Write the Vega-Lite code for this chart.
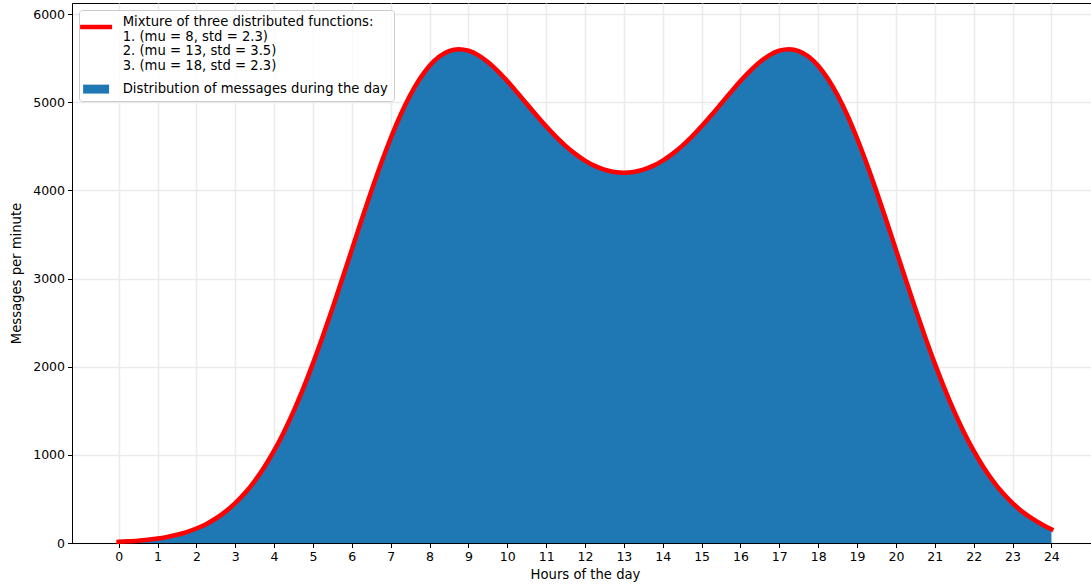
{
  "$schema": "https://vega.github.io/schema/vega-lite/v6.json",
  "autosize": "none",
  "width": 1026,
  "height": 540,
  "padding": {"left": 72, "top": 3, "right": 0, "bottom": 45},
  "background": "white",
  "config": {
    "font": "DejaVu Sans",
    "view": {"stroke": "#000000", "strokeWidth": 1},
    "axis": {
      "labelFont": "DejaVu Sans", "labelFontSize": 12.5, "labelColor": "#000000",
      "titleFont": "DejaVu Sans", "titleFontSize": 13.2, "titleFontWeight": "normal", "titleColor": "#000000",
      "domainColor": "#000000", "domainWidth": 1, "tickColor": "#000000", "tickSize": 4.5, "tickWidth": 1,
      "gridColor": "#ebebeb", "gridWidth": 1.5
    }
  },
  "data": {"values": [
    {"hour": 0, "count": 12, "fit": 13},
    {"hour": 0.25, "count": 18, "fit": 19},
    {"hour": 0.5, "count": 25, "fit": 26},
    {"hour": 0.75, "count": 36, "fit": 37},
    {"hour": 1, "count": 49, "fit": 50},
    {"hour": 1.25, "count": 68, "fit": 69},
    {"hour": 1.5, "count": 92, "fit": 93},
    {"hour": 1.75, "count": 122, "fit": 124},
    {"hour": 2, "count": 161, "fit": 164},
    {"hour": 2.25, "count": 212, "fit": 214},
    {"hour": 2.5, "count": 275, "fit": 278},
    {"hour": 2.75, "count": 354, "fit": 356},
    {"hour": 3, "count": 450, "fit": 452},
    {"hour": 3.25, "count": 563, "fit": 566},
    {"hour": 3.5, "count": 700, "fit": 703},
    {"hour": 3.75, "count": 860, "fit": 863},
    {"hour": 4, "count": 1045, "fit": 1047},
    {"hour": 4.25, "count": 1255, "fit": 1257},
    {"hour": 4.5, "count": 1490, "fit": 1493},
    {"hour": 4.75, "count": 1750, "fit": 1754},
    {"hour": 5, "count": 2035, "fit": 2037},
    {"hour": 5.25, "count": 2338, "fit": 2341},
    {"hour": 5.5, "count": 2658, "fit": 2661},
    {"hour": 5.75, "count": 2990, "fit": 2992},
    {"hour": 6, "count": 3325, "fit": 3328},
    {"hour": 6.25, "count": 3660, "fit": 3663},
    {"hour": 6.5, "count": 3988, "fit": 3990},
    {"hour": 6.75, "count": 4300, "fit": 4302},
    {"hour": 7, "count": 4590, "fit": 4591},
    {"hour": 7.25, "count": 4850, "fit": 4852},
    {"hour": 7.5, "count": 5075, "fit": 5078},
    {"hour": 7.75, "count": 5262, "fit": 5266},
    {"hour": 8, "count": 5410, "fit": 5414},
    {"hour": 8.25, "count": 5515, "fit": 5518},
    {"hour": 8.5, "count": 5578, "fit": 5580},
    {"hour": 8.75, "count": 5600, "fit": 5601},
    {"hour": 9, "count": 5582, "fit": 5584},
    {"hour": 9.25, "count": 5530, "fit": 5534},
    {"hour": 9.5, "count": 5452, "fit": 5456},
    {"hour": 9.75, "count": 5352, "fit": 5356},
    {"hour": 10, "count": 5236, "fit": 5240},
    {"hour": 10.25, "count": 5110, "fit": 5113},
    {"hour": 10.5, "count": 4978, "fit": 4982},
    {"hour": 10.75, "count": 4848, "fit": 4852},
    {"hour": 11, "count": 4722, "fit": 4726},
    {"hour": 11.25, "count": 4605, "fit": 4610},
    {"hour": 11.5, "count": 4500, "fit": 4505},
    {"hour": 11.75, "count": 4410, "fit": 4414},
    {"hour": 12, "count": 4334, "fit": 4338},
    {"hour": 12.25, "count": 4274, "fit": 4278},
    {"hour": 12.5, "count": 4230, "fit": 4235},
    {"hour": 12.75, "count": 4205, "fit": 4209},
    {"hour": 13, "count": 4196, "fit": 4201},
    {"hour": 13.25, "count": 4205, "fit": 4209},
    {"hour": 13.5, "count": 4230, "fit": 4235},
    {"hour": 13.75, "count": 4274, "fit": 4278},
    {"hour": 14, "count": 4334, "fit": 4338},
    {"hour": 14.25, "count": 4410, "fit": 4414},
    {"hour": 14.5, "count": 4500, "fit": 4505},
    {"hour": 14.75, "count": 4605, "fit": 4610},
    {"hour": 15, "count": 4722, "fit": 4726},
    {"hour": 15.25, "count": 4848, "fit": 4852},
    {"hour": 15.5, "count": 4978, "fit": 4982},
    {"hour": 15.75, "count": 5110, "fit": 5113},
    {"hour": 16, "count": 5236, "fit": 5240},
    {"hour": 16.25, "count": 5352, "fit": 5356},
    {"hour": 16.5, "count": 5452, "fit": 5456},
    {"hour": 16.75, "count": 5530, "fit": 5534},
    {"hour": 17, "count": 5582, "fit": 5584},
    {"hour": 17.25, "count": 5600, "fit": 5601},
    {"hour": 17.5, "count": 5578, "fit": 5580},
    {"hour": 17.75, "count": 5515, "fit": 5518},
    {"hour": 18, "count": 5410, "fit": 5414},
    {"hour": 18.25, "count": 5262, "fit": 5266},
    {"hour": 18.5, "count": 5075, "fit": 5078},
    {"hour": 18.75, "count": 4850, "fit": 4852},
    {"hour": 19, "count": 4590, "fit": 4591},
    {"hour": 19.25, "count": 4300, "fit": 4302},
    {"hour": 19.5, "count": 3988, "fit": 3990},
    {"hour": 19.75, "count": 3660, "fit": 3663},
    {"hour": 20, "count": 3325, "fit": 3328},
    {"hour": 20.25, "count": 2990, "fit": 2992},
    {"hour": 20.5, "count": 2658, "fit": 2661},
    {"hour": 20.75, "count": 2338, "fit": 2341},
    {"hour": 21, "count": 2035, "fit": 2037},
    {"hour": 21.25, "count": 1750, "fit": 1754},
    {"hour": 21.5, "count": 1490, "fit": 1493},
    {"hour": 21.75, "count": 1255, "fit": 1257},
    {"hour": 22, "count": 1045, "fit": 1047},
    {"hour": 22.25, "count": 860, "fit": 863},
    {"hour": 22.5, "count": 700, "fit": 703},
    {"hour": 22.75, "count": 563, "fit": 566},
    {"hour": 23, "count": 450, "fit": 452},
    {"hour": 23.25, "count": 354, "fit": 356},
    {"hour": 23.5, "count": 275, "fit": 278},
    {"hour": 23.75, "count": 210, "fit": 212},
    {"hour": 24, "count": 152, "fit": 155}
  ]},
  "encoding": {
    "x": {
      "field": "hour", "type": "quantitative",
      "scale": {"domain": [-1.2, 25.2], "nice": false, "zero": false},
      "axis": {
        "values": [0,1,2,3,4,5,6,7,8,9,10,11,12,13,14,15,16,17,18,19,20,21,22,23,24],
        "format": "d", "title": "Hours of the day", "labelFlush": false,
        "labelPadding": 3, "titlePadding": 5
      }
    }
  },
  "layer": [
    {
      "mark": {"type": "area", "interpolate": "monotone", "opacity": 1},
      "encoding": {
        "y": {
          "field": "count", "type": "quantitative",
          "scale": {"domain": [0, 6125], "nice": false},
          "axis": {
            "values": [0,1000,2000,3000,4000,5000,6000], "format": "d",
            "title": "Messages per minute", "labelPadding": 3, "titlePadding": 9
          }
        },
        "color": {
          "datum": "hist", "type": "nominal",
          "scale": {"domain": ["mix", "hist"], "range": ["#ff0000", "#1f77b4"]},
          "legend": {
            "orient": "none", "legendX": 7, "legendY": 7, "title": null,
            "fillColor": "rgba(255,255,255,0.8)", "strokeColor": "#cccccc", "cornerRadius": 3,
            "padding": 5.5, "labelFont": "DejaVu Sans", "labelFontSize": 13.2, "labelColor": "#000000",
            "labelLimit": 500, "labelOffset": 20, "symbolOffset": 5, "symbolSize": 1024, "rowPadding": 9,
            "labelExpr": "datum.value == 'mix' ? ['Mixture of three distributed functions:', '1. (mu = 8, std = 2.3)', '2. (mu = 13, std = 3.5)', '3. (mu = 18, std = 2.3)'] : 'Distribution of messages during the day'",
            "encoding": {
              "symbols": {
                "shape": {"value": {"expr": "datum.value == 'mix' ? 'M-1,0.3L1,0.3' : 'M-0.8125,-0.28H0.8125V0.28H-0.8125Z'"}},
                "strokeWidth": {"value": {"expr": "datum.value == 'mix' ? 4.5 : 0"}},
                "stroke": {"value": {"expr": "datum.value == 'mix' ? '#ff0000' : 'transparent'"}},
                "fill": {"value": {"expr": "datum.value == 'mix' ? 'transparent' : '#1f77b4'"}},
                "opacity": {"value": 1}
              },
              "labels": {
                "lineHeight": {"value": 14.5}
              }
            }
          }
        }
      }
    },
    {
      "mark": {"type": "line", "interpolate": "monotone", "strokeWidth": 4.5, "strokeCap": "square"},
      "encoding": {
        "y": {"field": "fit", "type": "quantitative"},
        "color": {"datum": "mix", "type": "nominal"}
      }
    }
  ]
}
